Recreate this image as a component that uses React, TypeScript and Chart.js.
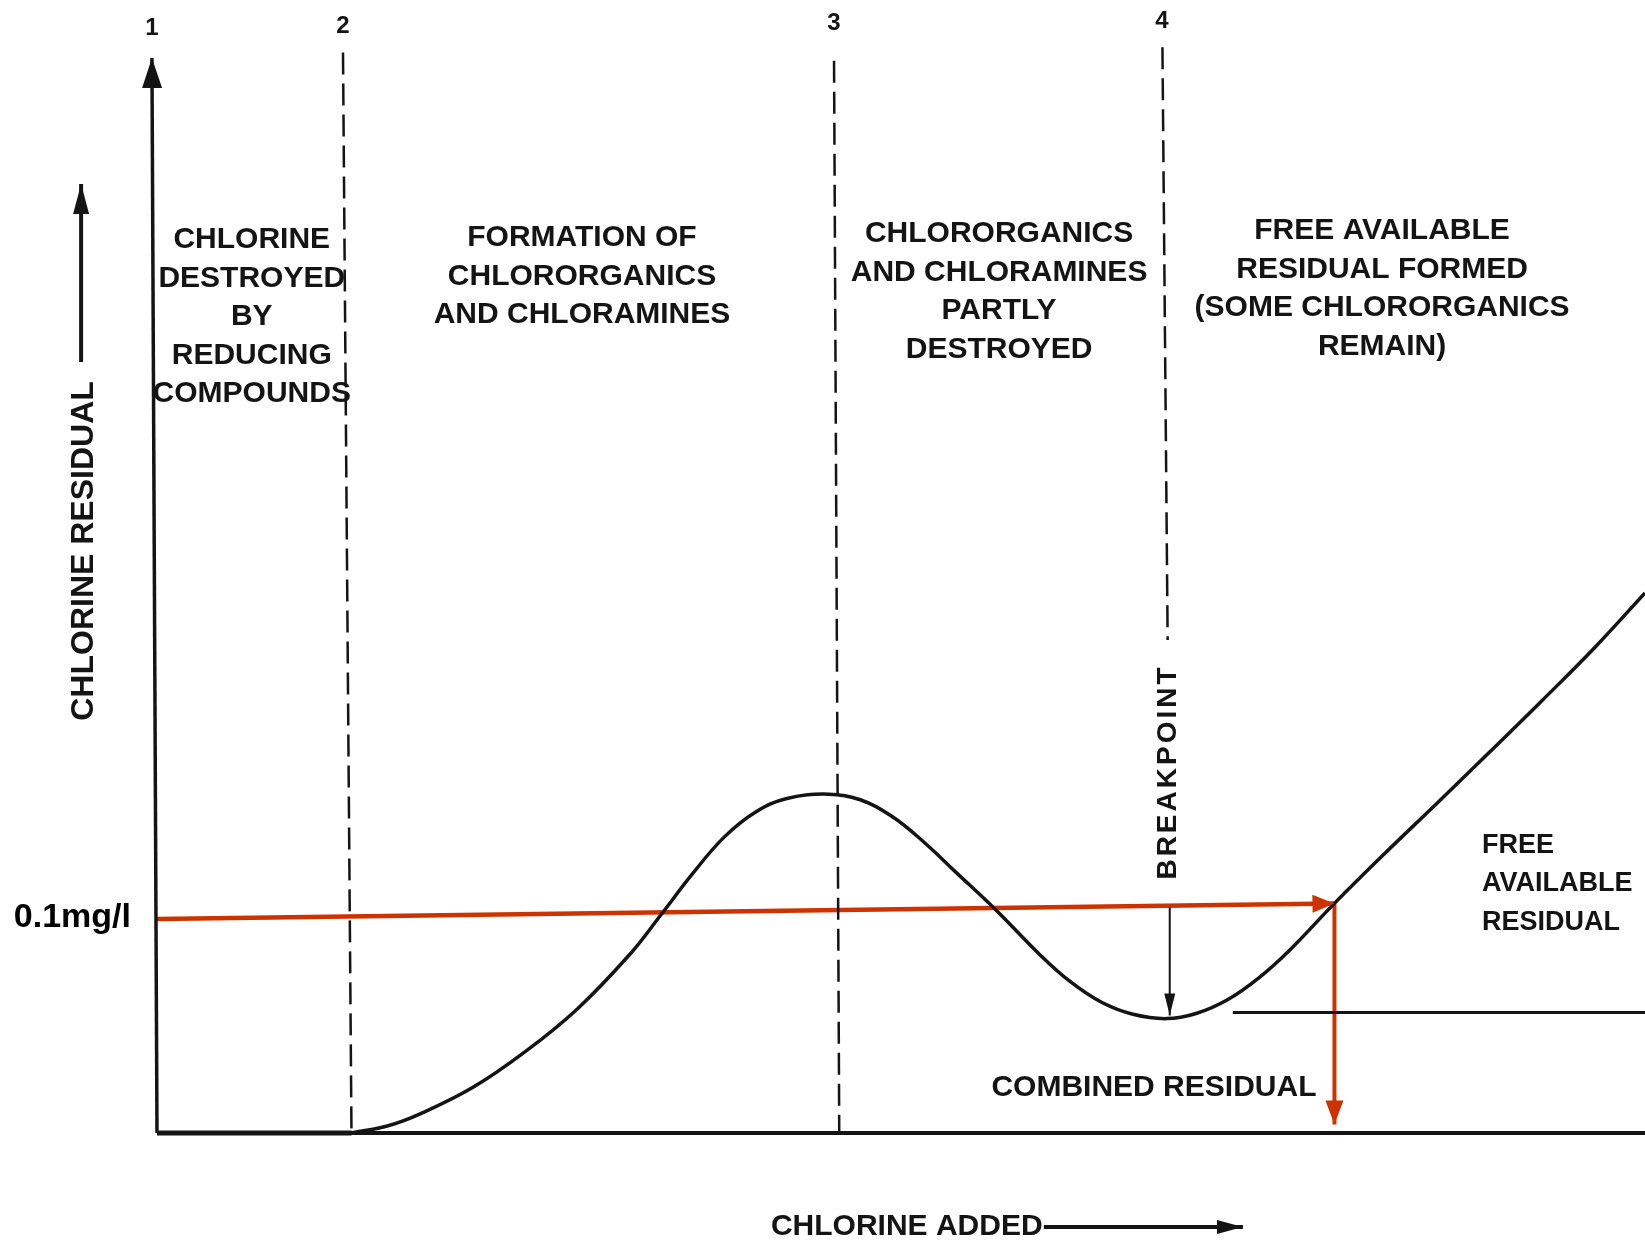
import React, { useEffect, useRef } from "react";
import { Chart, registerables } from "chart.js";

Chart.register(...registerables);

// ---- Data (x: chlorine added, arbitrary units 0..100; y: chlorine residual, mg/l) ----
const curveX = [13.07, 15.54, 17.65, 21.18, 24.7, 28.23, 31.75, 33.87, 35.98, 38.1, 40.21, 42.33, 45.15, 47.26, 49.38, 51.49, 53.61, 56.43, 59.25, 61.36, 63.48, 65.59, 67.85, 69.83, 71.94, 74.05, 76.17, 79.13, 82.51, 86.04, 89.56, 93.09, 96.61, 100];
const curveY = [0, 0.0034, 0.0088, 0.021, 0.0376, 0.0576, 0.0829, 0.1015, 0.1205, 0.1375, 0.1492, 0.1556, 0.1576, 0.155, 0.1473, 0.1356, 0.1218, 0.1034, 0.0835, 0.0705, 0.0608, 0.0552, 0.0532, 0.0556, 0.062, 0.0722, 0.0854, 0.1068, 0.13, 0.1535, 0.1772, 0.2012, 0.2257, 0.2512];

// initial flat part (chlorine consumed by reducing compounds)
const flatX = [0, 13.07];
const flatY = [0, 0];

// zone boundaries (dashed): [top, bottom]
const zoneLineX = [[12.5, 13.07], [45.5, 45.85], [67.57, 67.92]];
const zoneLineY = [[0.5026, 0], [0.4987, 0], [0.505, 0.2293]];
const zoneNumbers = ["1", "2", "3", "4"];
const zoneNumberX = [-0.34, 12.5, 45.5, 67.54];
const zoneNumberY = [0.514, 0.5149, 0.5163, 0.5172];

const zoneTexts = [
  ["CHLORINE", "DESTROYED", "BY", "REDUCING", "COMPOUNDS"],
  ["FORMATION OF", "CHLORORGANICS", "AND CHLORAMINES"],
  ["CHLORORGANICS", "AND CHLORAMINES", "PARTLY", "DESTROYED"],
  ["FREE AVAILABLE", "RESIDUAL FORMED", "(SOME CHLORORGANICS", "REMAIN)"],
];
const zoneTextX = [6.37, 28.56, 56.59, 82.33];
const zoneTextY = [0.4153, 0.4163, 0.4181, 0.4195];

// 0.1 mg/l reference line and drop line
const refLineX = [0, 79.13];
const refLineY = [0.0995, 0.1068];
const dropLineX = [79.13, 79.13];
const dropLineY = [0.1068, 0.0039];

// combined residual level
const combinedX = [72.3, 100];
const combinedY = [0.056, 0.056];

// breakpoint arrow
const breakArrowX = [68.06, 68.06];
const breakArrowY = [0.1049, 0.0547];

// axes
const xAxisX = [0, 100];
const xAxisY = [0, 0];
const yAxisX = [0, -0.34];
const yAxisY = [0, 0.5];

// axis title arrows
const yTitleArrowX = [-5.1, -5.1];
const yTitleArrowY = [0.3586, 0.4414];
const xTitleArrowX = [59.6, 72.98];
const xTitleArrowY = [-0.0437, -0.0437];

const FONT = '"Liberation Sans", Arial, Helvetica, sans-serif';
const INK = "#141414";
const RED = "#cc3300";

const pts = (xs: number[], ys: number[]) => xs.map((x, i) => ({ x, y: ys[i] }));

const seg = (xs: number[], ys: number[], extra: any) => ({
  data: pts(xs, ys),
  showLine: true,
  pointRadius: 0,
  pointHoverRadius: 0,
  borderColor: INK,
  backgroundColor: INK,
  borderWidth: 3,
  fill: false,
  clip: false,
  tension: 0,
  ...extra,
});

const arrowPlugin = {
  id: "arrowheads",
  afterDatasetsDraw(chart: any) {
    const ctx = chart.ctx;
    chart.data.datasets.forEach((ds: any, i: number) => {
      if (!ds.arrow) return;
      const data = chart.getDatasetMeta(i).data;
      const a = data[data.length - 1];
      const b = data[data.length - 2];
      const ang = Math.atan2(a.y - b.y, a.x - b.x);
      const { len, width } = ds.arrow;
      const bx = a.x - len * Math.cos(ang);
      const by = a.y - len * Math.sin(ang);
      const px = (-Math.sin(ang) * width) / 2;
      const py = (Math.cos(ang) * width) / 2;
      ctx.save();
      ctx.fillStyle = ds.borderColor;
      ctx.beginPath();
      ctx.moveTo(a.x, a.y);
      ctx.lineTo(bx + px, by + py);
      ctx.lineTo(bx - px, by - py);
      ctx.closePath();
      ctx.fill();
      ctx.restore();
    });
  },
};

const textPlugin = {
  id: "texts",
  afterDraw(chart: any) {
    const ctx = chart.ctx;
    const sx = chart.scales.x;
    const sy = chart.scales.y;
    const X = (v: number) => sx.getPixelForValue(v);
    const Y = (v: number) => sy.getPixelForValue(v);
    ctx.save();
    ctx.fillStyle = INK;
    ctx.textBaseline = "middle";

    // zone descriptions
    ctx.font = `bold 30px ${FONT}`;
    ctx.textAlign = "center";
    zoneTexts.forEach((lines, k) => {
      lines.forEach((t, j) => ctx.fillText(t, X(zoneTextX[k]), Y(zoneTextY[k]) + j * 38.5));
    });

    // zone numbers
    ctx.font = `bold 24px ${FONT}`;
    zoneNumbers.forEach((t, k) => ctx.fillText(t, X(zoneNumberX[k]), Y(zoneNumberY[k])));

    // free available residual
    ctx.font = `bold 27px ${FONT}`;
    ctx.textAlign = "left";
    ["FREE", "AVAILABLE", "RESIDUAL"].forEach((t, j) => ctx.fillText(t, X(89.05), Y(0.1337) + j * 38.5));

    // combined residual
    ctx.font = `bold 30px ${FONT}`;
    ctx.textAlign = "center";
    ctx.fillText("COMBINED RESIDUAL", X(67.0), Y(0.0209));

    // x axis title
    ctx.textAlign = "left";
    ctx.fillText("CHLORINE ADDED", X(41.26), Y(-0.0437));

    // 0.1 mg/l
    ctx.font = `bold 34px ${FONT}`;
    ctx.textAlign = "right";
    ctx.fillStyle = "#000";
    ctx.fillText("0.1mg/l", X(-1.75), Y(0.1));
    ctx.fillStyle = INK;

    // y axis title (rotated)
    ctx.save();
    ctx.translate(X(-4.9), Y(0.2707));
    ctx.rotate(-Math.PI / 2);
    ctx.font = `bold 32px ${FONT}`;
    ctx.textAlign = "center";
    ctx.fillText("CHLORINE RESIDUAL", 0, 0);
    ctx.restore();

    // breakpoint (rotated)
    ctx.save();
    ctx.translate(X(67.94), Y(0.1679));
    ctx.rotate(-Math.PI / 2);
    ctx.font = `bold 28px ${FONT}`;
    (ctx as any).letterSpacing = "3px";
    ctx.textAlign = "center";
    ctx.fillText("BREAKPOINT", 0, 0);
    ctx.restore();

    ctx.restore();
  },
};

export default function App() {
  const ref = useRef<HTMLCanvasElement>(null);

  useEffect(() => {
    if (!ref.current) return;
    const datasets: any[] = [
      seg(xAxisX, xAxisY, { borderWidth: 4 }),
      seg(flatX, flatY, { borderWidth: 5 }),
      seg(yAxisX, yAxisY, { borderWidth: 3.5, arrow: { len: 30, width: 20 } }),
      ...zoneLineX.map((xs, k) => seg(xs, zoneLineY[k], { borderWidth: 2.5, borderDash: [22, 9] })),
      seg(curveX, curveY, { borderWidth: 3.5, tension: 0.4 }),
      seg(combinedX, combinedY, { borderWidth: 3 }),
      seg(breakArrowX, breakArrowY, { borderWidth: 2, arrow: { len: 22, width: 11 } }),
      seg(refLineX, refLineY, { borderColor: RED, backgroundColor: RED, borderWidth: 4.5, arrow: { len: 22, width: 18 } }),
      seg(dropLineX, dropLineY, { borderColor: RED, backgroundColor: RED, borderWidth: 4, arrow: { len: 24, width: 18 } }),
      seg(yTitleArrowX, yTitleArrowY, { borderWidth: 4, arrow: { len: 30, width: 16 } }),
      seg(xTitleArrowX, xTitleArrowY, { borderWidth: 4, arrow: { len: 26, width: 14 } }),
    ];

    const chart = new Chart(ref.current, {
      type: "scatter",
      data: { datasets },
      options: {
        responsive: false,
        devicePixelRatio: 1,
        animation: false,
        events: [],
        layout: { padding: { left: 157, right: 0, top: 58, bottom: 110 } },
        plugins: { legend: { display: false }, tooltip: { enabled: false } },
        scales: {
          x: { type: "linear", min: 0, max: 100, display: false },
          y: { type: "linear", min: 0, max: 0.5, display: false },
        },
      },
      plugins: [arrowPlugin, textPlugin],
    } as any);

    return () => chart.destroy();
  }, []);

  return (
    <div style={{ position: "absolute", left: 0, top: 0, width: 1645, height: 1243, background: "#fff" }}>
      <canvas ref={ref} width={1645} height={1243} style={{ display: "block" }} />
    </div>
  );
}
